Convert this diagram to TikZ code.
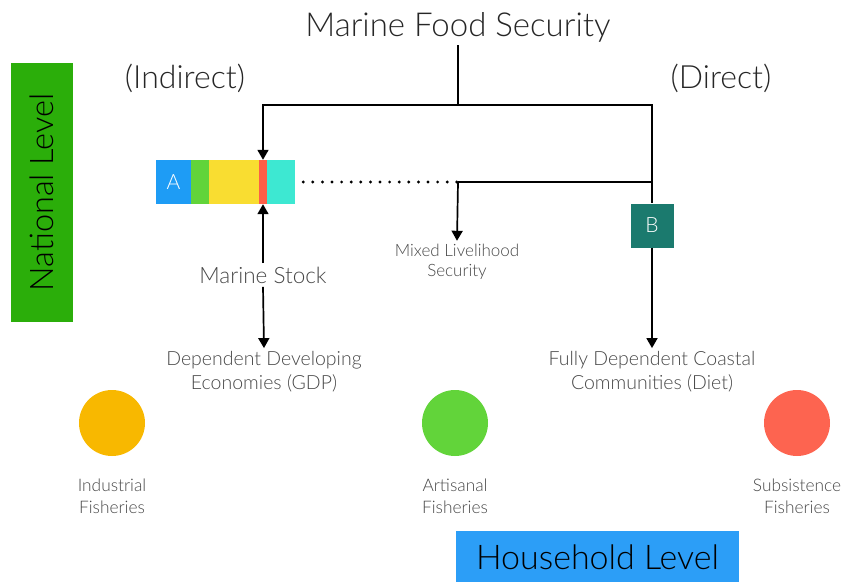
\documentclass[tikz,border=0pt]{standalone}
\usepackage{fontspec}
\setmainfont{Lato Light}
\usetikzlibrary{arrows.meta,shapes}
\definecolor{txtgray}{HTML}{474747}
\definecolor{headgray}{HTML}{262626}
\definecolor{natgreen}{HTML}{2BAE0A}
\definecolor{houseblue}{HTML}{2C9EF7}
\definecolor{segblue}{HTML}{1E9CF5}
\definecolor{seggreen}{HTML}{62D43A}
\definecolor{segyellow}{HTML}{F9DD31}
\definecolor{segred}{HTML}{FD5F47}
\definecolor{segcyan}{HTML}{3DE8D2}
\definecolor{bteal}{HTML}{1B7A6E}
\definecolor{fishorange}{HTML}{F8B800}
\definecolor{fishgreen}{HTML}{62D43A}
\definecolor{fishred}{HTML}{FD6450}
\tikzstyle{head}=[text=headgray,font=\fontsize{33}{38}\selectfont]
\tikzstyle{lbl}=[text=txtgray,align=center,font=\fontsize{19.5}{24}\selectfont]
\tikzstyle{levelbox}=[text=black,inner sep=0pt]
\tikzstyle{seg}=[minimum height=44,inner sep=0pt]
\tikzstyle{fish}=[circle,minimum size=66,inner sep=0pt]
\tikzstyle{wire} = [draw,line width=1.7pt]
\tikzstyle{flow} = [draw,line width=1.7pt,-{Triangle[length=10pt,width=11pt]}]
\tikzstyle{dots} = [draw,line width=3.2pt,line cap=round,dash pattern=on 0pt off 9.6pt]

\begin{document}
\begin{tikzpicture}[x=1pt,y=-1pt]
    \useasboundingbox (0,0) rectangle (843,581);
    % Headings and the two level bars
    \node[head] (title) at (458,27) {Marine Food Security};
    \node[head,font=\fontsize{32}{38}\selectfont] (indirect) at (185,78) {(Indirect)};
    \node[head,font=\fontsize{32}{38}\selectfont] (direct) at (721,78) {(Direct)};
    \node[levelbox,fill=natgreen,minimum width=259,minimum height=62,rotate=90,font=\fontsize{32.5}{38}\selectfont] (national) at (42,192.5) {National Level};
    \node[levelbox,fill=houseblue,minimum width=283,minimum height=52,font=\fontsize{34}{40}\selectfont] (household) at (597.5,557) {Household Level};
    % The stock bar, one node per segment
    \foreach \name/\cx/\w/\col in {segA/173.5/35/segblue, segG/200/18/seggreen, segY/234/50/segyellow, segR/263/8/segred, segC/281/28/segcyan}
        \node[seg,fill=\col,minimum width=\w] (\name) at (\cx,182) {};
    \node[text=white,font=\fontsize{21}{24}\selectfont] (labA) at (segA) {A};
    \node[fill=bteal,text=white,minimum width=43,minimum height=44,inner sep=0pt,font=\fontsize{21}{24}\selectfont] (bbox) at (652,225.5) {B};
    % Text labels
    \node[lbl,font=\fontsize{17}{20}\selectfont] (mixed) at (457,262) {Mixed Livelihood\\Security};
    \node[lbl,font=\fontsize{22.5}{26}\selectfont] (stock) at (263,275) {Marine Stock};
    \node[lbl] (gdp) at (264,372) {Dependent Developing\\Economies (GDP)};
    \node[lbl] (diet) at (652,372) {Fully Dependent Coastal\\Communities (Diet)};
    % Fisheries
    \foreach \name/\cx/\col/\txt in {ind/112/fishorange/Industrial, art/455/fishgreen/Artisanal, sub/797/fishred/Subsistence}
    {
        \node[fish,fill=\col] (\name) at (\cx,423) {};
        \node[lbl,font=\fontsize{17.3}{22}\selectfont] (\name txt) at (\cx,496) {\txt\\Fisheries};
    }
    % Junctions
    \coordinate (split) at (458,105);
    \coordinate (lcorner) at (263,105);
    \coordinate (rcorner) at (652,105);
    \coordinate (mixsplit) at (458,182);
    \coordinate (rjoin) at (652,182);
    % Connectors
    \path[wire] (title.south) -- (split);
    \path[flow] (split) -- (lcorner) -- (segR.north);
    \path[wire] (split) -- (rcorner) -- (bbox.north);
    \path[flow] (bbox.south) -- (diet.north);
    \path[wire] (rjoin) -- (mixsplit);
    \path[flow] (mixsplit) -- (mixed.north);
    \path[dots] ([xshift=8pt]segC.east) -- (mixsplit);
    \path[flow] (stock.north) -- (segR.south);
    \path[flow] (stock.south) -- (gdp.north);
\end{tikzpicture}
\end{document}
